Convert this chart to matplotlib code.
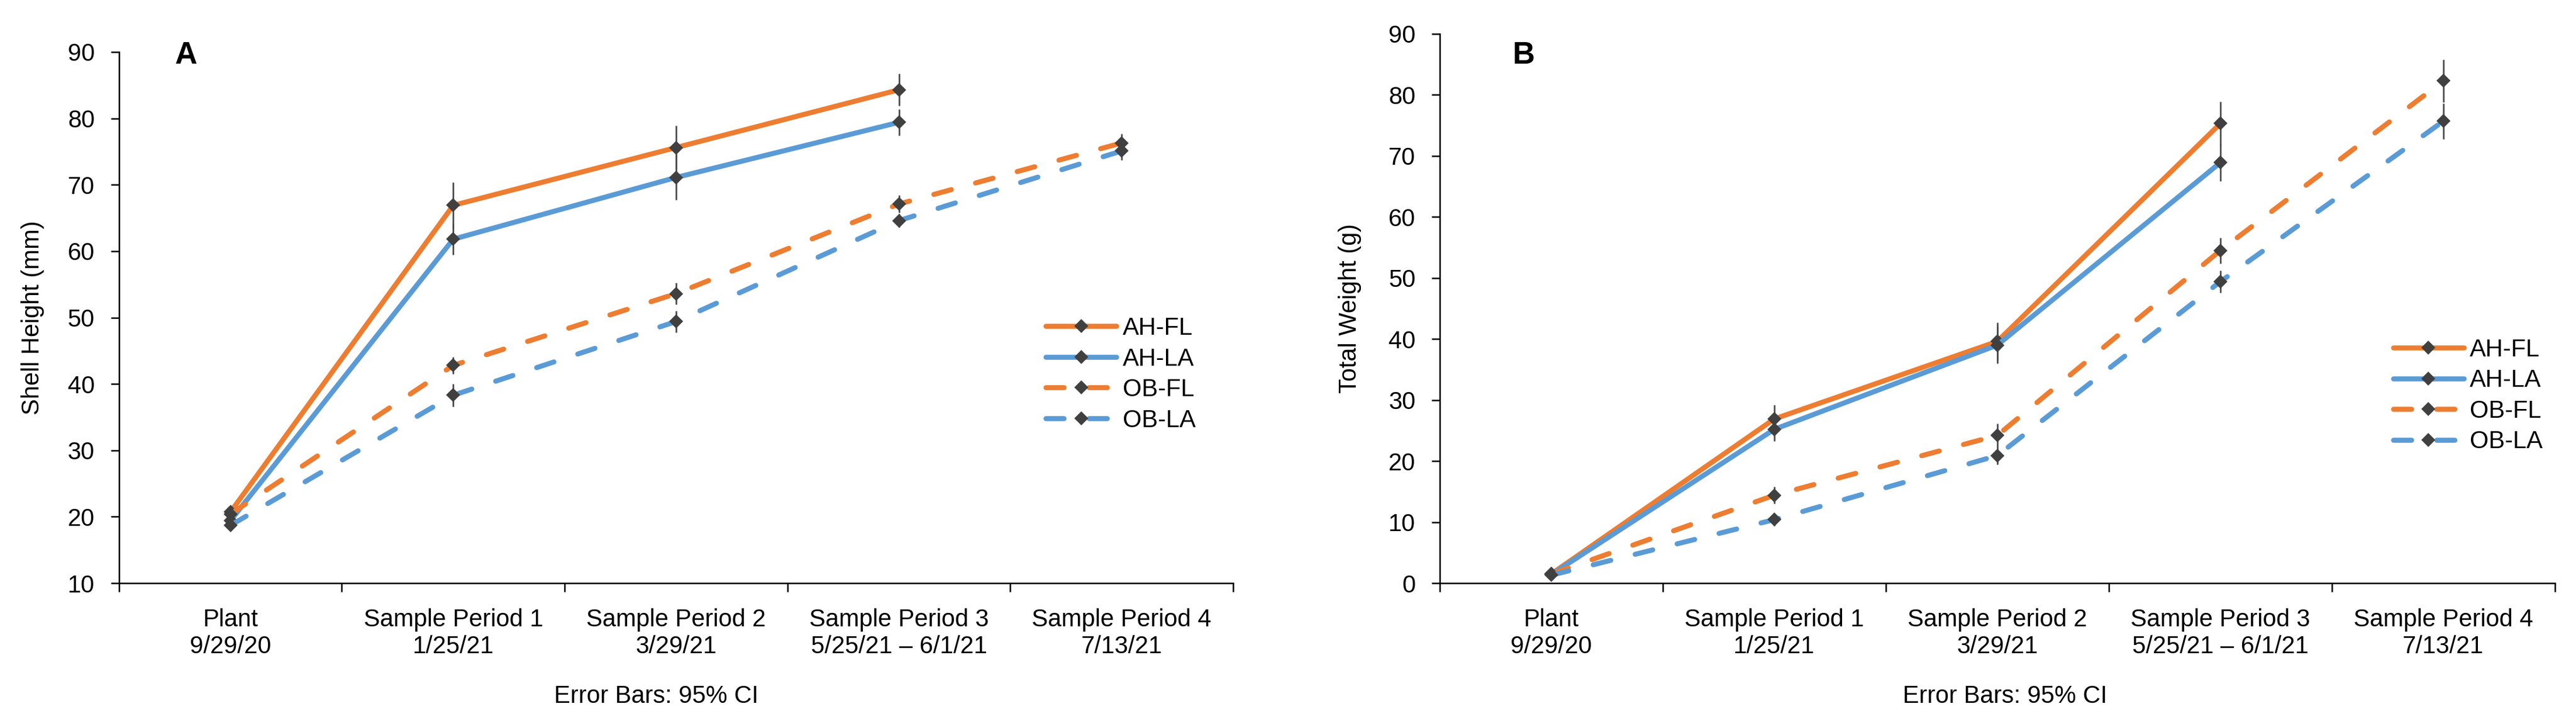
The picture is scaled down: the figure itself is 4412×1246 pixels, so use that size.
import matplotlib.pyplot as plt

plt.rcParams['font.family'] = ['Liberation Sans', 'DejaVu Sans']

# 横轴类别
categories = ['Plant\n9/29/20', 'Sample Period 1\n1/25/21', 'Sample Period 2\n3/29/21',
              'Sample Period 3\n5/25/21 – 6/1/21', 'Sample Period 4\n7/13/21']
series_names = ['AH-FL', 'AH-LA', 'OB-FL', 'OB-LA']

# A: 壳高 (mm) 及 95% CI
ah_fl_height = [20.7, 66.9, 75.6, 84.3]
ah_la_height = [19.4, 61.8, 71.1, 79.4]
ob_fl_height = [20.4, 42.8, 53.6, 67.1, 76.3]
ob_la_height = [18.7, 38.3, 49.4, 64.6, 75.1]
ah_fl_height_ci = [0.3, 3.5, 3.3, 2.4]
ah_la_height_ci = [0.3, 2.3, 3.4, 2.0]
ob_fl_height_ci = [0.3, 1.3, 1.6, 1.3, 1.4]
ob_la_height_ci = [0.3, 1.7, 1.6, 1.0, 1.4]

# B: 总重 (g) 及 95% CI
ah_fl_weight = [1.5, 26.9, 39.6, 75.3]
ah_la_weight = [1.4, 25.2, 39.0, 68.9]
ob_fl_weight = [1.5, 14.4, 24.2, 54.5, 82.3]
ob_la_weight = [1.3, 10.4, 20.9, 49.4, 75.7]
ah_fl_weight_ci = [0.2, 2.3, 3.1, 3.6]
ah_la_weight_ci = [0.2, 1.9, 3.0, 3.0]
ob_fl_weight_ci = [0.2, 1.4, 1.9, 2.1, 3.5]
ob_la_weight_ci = [0.2, 1.0, 1.5, 1.8, 2.9]

ORANGE = '#ED7D31'
BLUE = '#5B9BD5'
DASH = (0, (3.6, 5.0))
styles = [(ORANGE, '-'), (BLUE, '-'), (ORANGE, DASH), (BLUE, DASH)]
FS = 30


def draw_panel(ax, values, cis, ylim, ylabel, tag, tag_xy, ylabel_x, note_xy, legend_xy):
    handles = []
    for vals, ci, (color, ls) in zip(values, cis, styles):
        x = list(range(len(vals)))
        eb = ax.errorbar(x, vals, yerr=ci, color=color, ls=ls, lw=6.2,
                         solid_capstyle='round', dash_capstyle='round',
                         marker='D', ms=12.5, mfc='#404040', mec='#404040', mew=0,
                         ecolor='#4d4d4d', elinewidth=2.0, capsize=7.2, capthick=2.0)
        handles.append(eb.lines[0])

    n = len(categories)
    ax.set_xlim(-0.5, n - 0.5)
    ax.set_xticks([i - 0.5 for i in range(n + 1)])
    ax.set_xticks(range(n), minor=True)
    ax.set_xticklabels(categories, minor=True)
    ax.tick_params(axis='x', which='major', length=11, width=1.8, labelbottom=False)
    ax.tick_params(axis='x', which='minor', length=0, pad=31, labelsize=FS)

    ax.set_ylim(*ylim)
    ax.set_yticks(range(ylim[0], ylim[1] + 1, 10))
    ax.tick_params(axis='y', length=10, width=1.8, pad=20, labelsize=FS)

    for side in ['top', 'right']:
        ax.spines[side].set_visible(False)
    for side in ['left', 'bottom']:
        ax.spines[side].set_linewidth(1.8)

    ax.set_ylabel(ylabel, fontsize=FS)
    ax.yaxis.set_label_coords(ylabel_x, 0.5)

    ax.text(tag_xy[0], tag_xy[1], tag, transform=ax.transAxes, ha='center', va='center',
            fontsize=38, fontweight='bold')
    ax.text(note_xy[0], note_xy[1], 'Error Bars: 95% CI', transform=ax.transAxes,
            ha='center', va='center', fontsize=FS)

    ax.legend(handles, series_names, loc='center left', bbox_to_anchor=legend_xy,
              frameon=False, fontsize=FS, handlelength=2.9, handletextpad=0.25,
              labelspacing=0.3, borderpad=0, borderaxespad=0, numpoints=1)


fig = plt.figure(figsize=(44.12, 12.46), dpi=100)
ax_a = fig.add_axes([0.0462, 0.1990, 0.4325, 0.7296])
ax_b = fig.add_axes([0.5589, 0.1990, 0.4329, 0.7545])

draw_panel(ax_a,
           [ah_fl_height, ah_la_height, ob_fl_height, ob_la_height],
           [ah_fl_height_ci, ah_la_height_ci, ob_fl_height_ci, ob_la_height_ci],
           (10, 90), 'Shell Height (mm)', 'A', (0.060, 0.993), -0.067,
           (0.482, -0.213), (0.832, 0.393))

draw_panel(ax_b,
           [ah_fl_weight, ah_la_weight, ob_fl_weight, ob_la_weight],
           [ah_fl_weight_ci, ah_la_weight_ci, ob_fl_weight_ci, ob_la_weight_ci],
           (0, 90), 'Total Weight (g)', 'B', (0.0754, 0.961), -0.070,
           (0.507, -0.206), (0.855, 0.341))

fig.savefig('out.png', dpi=100)
